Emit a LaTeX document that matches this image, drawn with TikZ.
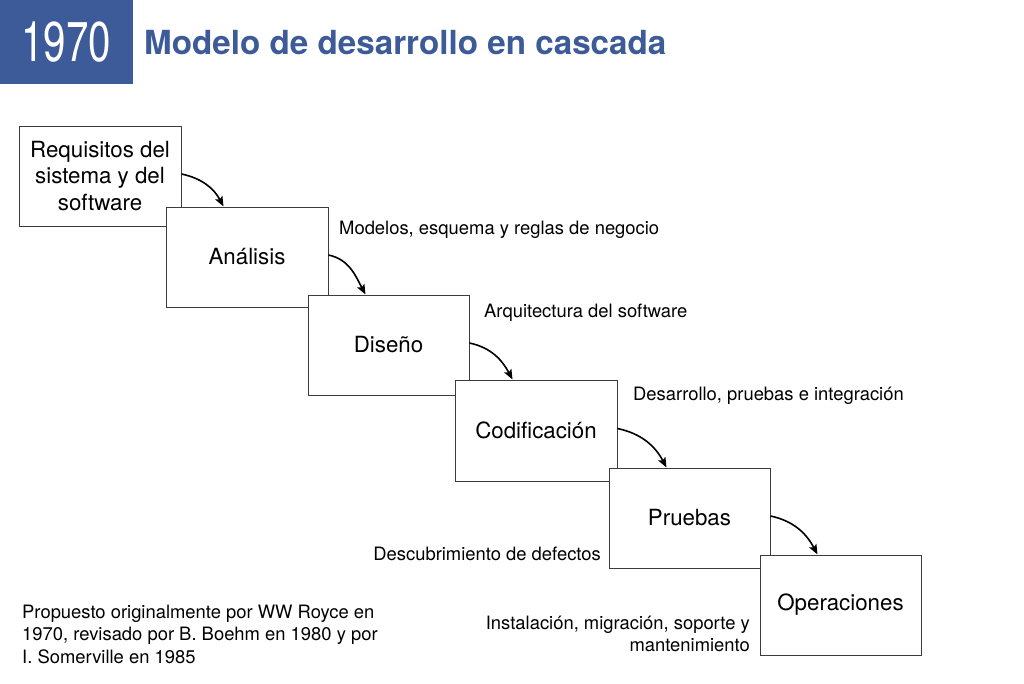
\documentclass[tikz,border=0pt]{standalone}
\usepackage{fontspec}
\setmainfont{TeX Gyre Heros}
\newfontfamily\anchofont[FakeStretch=0.72]{TeX Gyre Heros}
\usetikzlibrary{arrows.meta}
\definecolor{azulTitulo}{RGB}{61, 90, 153}
\definecolor{bordeGris}{RGB}{60, 60, 60}

\begin{document}
\begin{tikzpicture}[x=1pt, y=-1pt,
    fase/.style={draw=bordeGris, line width=1pt, fill=white, minimum width=162pt,
      minimum height=100pt, inner sep=0pt, align=center,
      font=\fontsize{22.3}{26.5}\selectfont},
    nota/.style={inner sep=0pt, font=\fontsize{18.4}{22.5}\selectfont},
    flecha/.style={-{Stealth[length=10pt, width=8pt, inset=2pt]}, line width=1.6pt}]
        \useasboundingbox (0,0) rectangle (1024,683);
        % Cabecera
        \fill[azulTitulo] (0,0) rectangle (133,84);
        \node[text=white, font=\anchofont\fontsize{56}{60}\selectfont] (anio) at (66,42) {1970};
        \node[anchor=west, inner sep=0pt, text=azulTitulo, font=\bfseries\fontsize{33.2}{36}\selectfont]
          (titulo) at (144,43) {Modelo de desarrollo en cascada};
        % Fases de la cascada (cada una tapa a la anterior)
        \node[fase] (requisitos) at (100,176) {Requisitos del\\sistema y del\\software};
        \node[fase] (analisis) at (247,257) {Análisis};
        \node[fase, minimum width=161pt] (diseno) at (388.5,345) {Diseño};
        \node[fase, minimum height=101pt] (codificacion) at (536,430.5) {Codificación};
        \node[fase, minimum width=161pt] (pruebas) at (689.5,518) {Pruebas};
        \node[fase, minimum width=161pt] (operaciones) at (840.5,605) {Operaciones};
        % Flechas entre fases
        \foreach \de/\a in {requisitos/analisis, analisis/diseno, diseno/codificacion,
                            codificacion/pruebas, pruebas/operaciones}
          \draw[flecha] ([yshift=2pt]\de.east) to[out=-12, in=118] ([xshift=58pt]\a.north west);
        % Productos de cada fase
        \node[nota, anchor=west] (modelos) at (339,230) {Modelos, esquema y reglas de negocio};
        \node[nota, anchor=west] (arquitectura) at (484,313) {Arquitectura del software};
        \node[nota, anchor=west] (desarrollo) at (633,396) {Desarrollo, pruebas e integración};
        \node[nota, anchor=east] (defectos) at (601,554) {Descubrimiento de defectos};
        \node[nota, anchor=east, align=right] (instalacion) at (750,634)
          {Instalación, migración, soporte y\\mantenimiento};
        % Nota historica
        \node[nota, anchor=west, align=left] (origen) at (22,634)
          {Propuesto originalmente por WW Royce en\\1970, revisado por B. Boehm en 1980 y por\\I. Somerville en 1985};
\end{tikzpicture}
\end{document}
